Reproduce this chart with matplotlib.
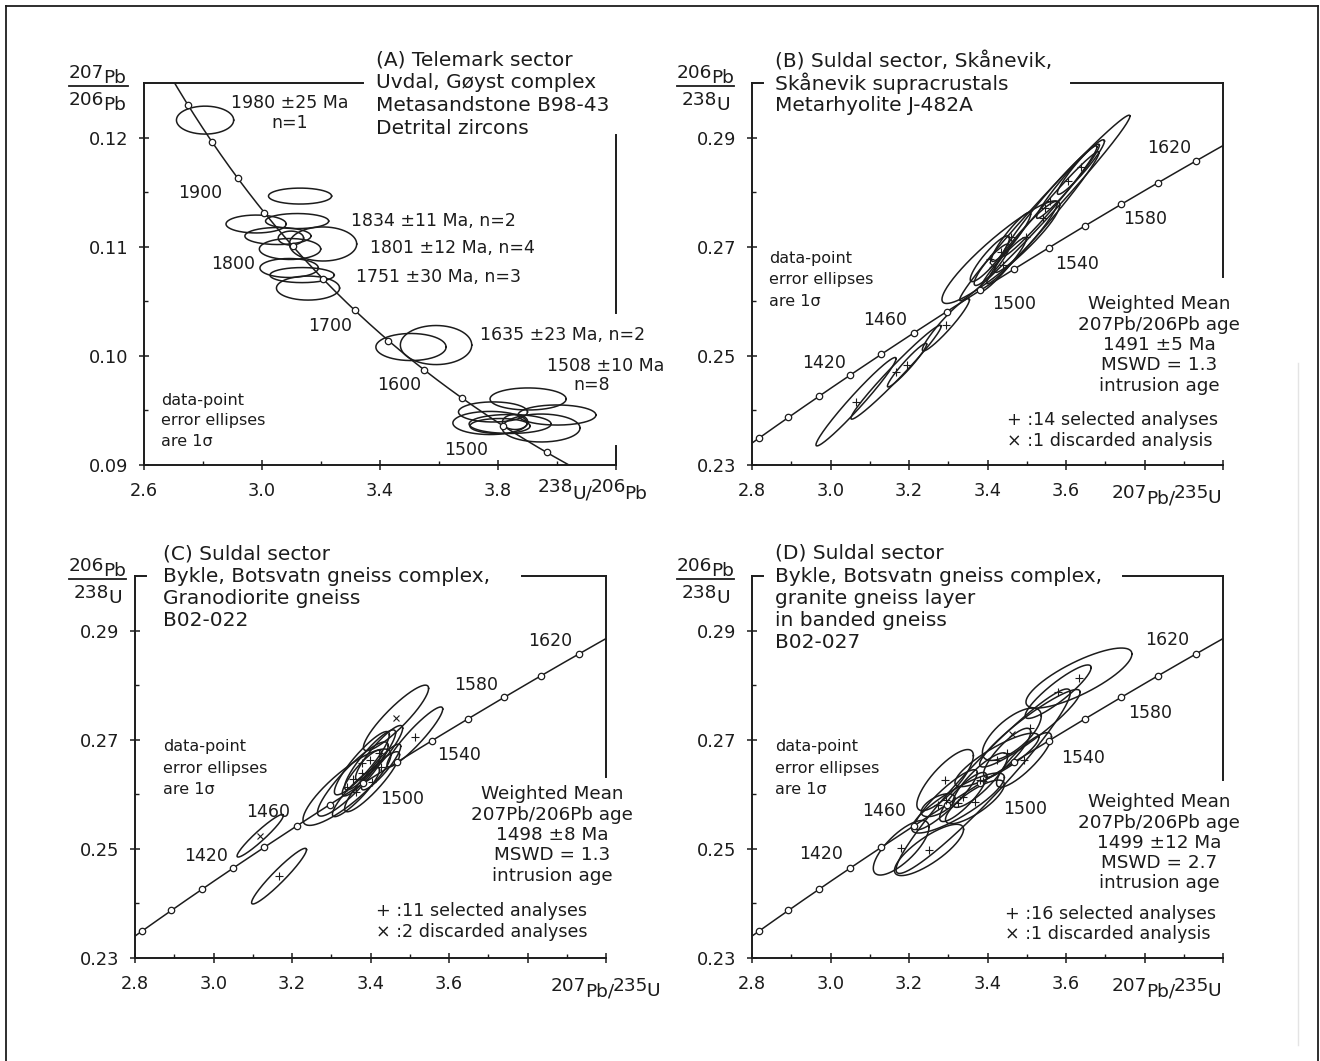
import numpy as np
import matplotlib
matplotlib.use("Agg")
import matplotlib.pyplot as plt
from matplotlib.lines import Line2D

plt.rcParams['font.family'] = ['DejaVu Sans']

W, H, DPI = 1320, 1061, 100
INK = '#1c1c1c'

# decay constants (1/Ma) and present-day 238U/235U
LAMBDA_238 = 1.55125e-4
LAMBDA_235 = 9.8485e-4
U238_U235 = 137.88

# ---------------- Panel A : Tera-Wasserburg, detrital zircons ----------------
a_marker_ages = [1450, 1500, 1550, 1600, 1650, 1700, 1750, 1800, 1850, 1900, 1950, 2000]
a_x = [2.807, 3.129, 2.980, 3.119, 3.054, 3.098, 3.207, 3.095, 3.092, 3.136, 3.156,
       3.505, 3.590,
       3.902, 3.783, 4.000, 3.773, 3.841, 3.946, 3.858, 3.807]
a_y = [0.1216, 0.11464, 0.11208, 0.11235, 0.11098, 0.11079, 0.11025, 0.10979, 0.10805, 0.10740, 0.10621,
       0.10081, 0.10099,
       0.09605, 0.09486, 0.09458, 0.09385, 0.09376, 0.09339, 0.09394, 0.09357]
a_sx = [0.097, 0.107, 0.102, 0.107, 0.112, 0.043, 0.114, 0.104, 0.099, 0.109, 0.107,
        0.119, 0.121,
        0.129, 0.117, 0.132, 0.126, 0.139, 0.132, 0.043, 0.102]
a_sy = [0.00128, 0.00073, 0.00082, 0.00069, 0.00078, 0.00064, 0.00156, 0.00096, 0.00087, 0.00069, 0.00110,
        0.00124, 0.00179,
        0.00101, 0.00092, 0.00092, 0.00106, 0.00087, 0.00128, 0.00069, 0.00069]
a_xticks = [2.6, 3.0, 3.4, 3.8, 4.2]
a_xticklabels = ['2.6', '3.0', '3.4', '3.8', '']
a_xminor = [2.8, 3.2, 3.6, 4.0]
a_yticks = [0.09, 0.10, 0.11, 0.12]
a_yticklabels = ['0.09', '0.10', '0.11', '0.12']
a_yminor = [0.095, 0.105, 0.115]

# ---------------- Panels B-D : Wetherill concordia ----------------
w_marker_ages = list(range(1340, 1661, 20))
w_xticks = [2.8, 3.0, 3.2, 3.4, 3.6, 3.8, 4.0]
w_xticklabels = ['2.8', '3.0', '3.2', '3.4', '3.6', '', '']
w_xminor = [2.9, 3.1, 3.3, 3.5, 3.7, 3.9]
w_yticks = [0.23, 0.25, 0.27, 0.29]
w_yticklabels = ['0.23', '0.25', '0.27', '0.29']
w_yminor = [0.24, 0.26, 0.28]

# Panel B : Metarhyolite J-482A  (x, y, sx, sy, rho, symbol)
b_x = [3.065, 3.167, 3.195, 3.294, 3.434, 3.546, 3.406, 3.439, 3.460, 3.498, 3.541, 3.559, 3.605, 3.638, 3.411]
b_y = [0.2416, 0.2470, 0.2483, 0.2557, 0.2690, 0.2771, 0.2678, 0.2667, 0.2718, 0.2718, 0.2753, 0.2784, 0.2820, 0.2846, 0.2667]
b_sx = [0.102, 0.115, 0.050, 0.060, 0.150, 0.217, 0.050, 0.060, 0.050, 0.080, 0.143, 0.120, 0.080, 0.060, 0.045]
b_sy = [0.0081, 0.0086, 0.0040, 0.0048, 0.0094, 0.0170, 0.0042, 0.0050, 0.0045, 0.0065, 0.0121, 0.0101, 0.0068, 0.0050, 0.0038]
b_rho = [0.975, 0.98, 0.96, 0.95, 0.92, 0.99, 0.90, 0.95, 0.93, 0.95, 0.985, 0.98, 0.97, 0.95, 0.90]
b_sym = ['+'] * 14 + ['x']

# Panel C : Granodiorite gneiss B02-022
c_x = [3.378, 3.399, 3.422, 3.355, 3.378, 3.340, 3.363, 3.427, 3.404, 3.513, 3.167, 3.465, 3.119]
c_y = [0.2657, 0.2663, 0.2676, 0.2628, 0.2639, 0.2613, 0.2604, 0.2650, 0.2623, 0.2705, 0.2450, 0.2740, 0.2524]
c_sx = [0.070, 0.065, 0.060, 0.090, 0.050, 0.112, 0.060, 0.050, 0.070, 0.071, 0.070, 0.083, 0.059]
c_sy = [0.0058, 0.0055, 0.0050, 0.0068, 0.0042, 0.0070, 0.0045, 0.0042, 0.0055, 0.0055, 0.0051, 0.0060, 0.0039]
c_rho = [0.90, 0.90, 0.90, 0.90, 0.88, 0.85, 0.90, 0.90, 0.90, 0.93, 0.95, 0.90, 0.95]
c_sym = ['+'] * 11 + ['x', 'x']

# Panel D : granite gneiss layer B02-027
d_x = [3.633, 3.580, 3.462, 3.389, 3.292, 3.180, 3.251, 3.325, 3.368, 3.424, 3.508, 3.274, 3.294, 3.338, 3.381, 3.450, 3.493]
d_y = [0.2813, 0.2788, 0.2710, 0.2624, 0.2626, 0.2502, 0.2498, 0.2584, 0.2586, 0.2663, 0.2721, 0.2580, 0.2590, 0.2595, 0.2626, 0.2676, 0.2663]
d_sx = [0.135, 0.084, 0.075, 0.222, 0.072, 0.071, 0.088, 0.118, 0.075, 0.107, 0.128, 0.043, 0.080, 0.060, 0.070, 0.060, 0.070]
d_sy = [0.0055, 0.0049, 0.0048, 0.0169, 0.0056, 0.0050, 0.0047, 0.0055, 0.0040, 0.0049, 0.0071, 0.0021, 0.0055, 0.0045, 0.0050, 0.0045, 0.0050]
d_rho = [0.80, 0.90, 0.70, 0.96, 0.80, 0.75, 0.80, 0.85, 0.80, 0.85, 0.93, 0.60, 0.90, 0.85, 0.85, 0.85, 0.85]
d_sym = ['+', '+', 'x'] + ['+'] * 14

# ---------------------------------------------------------------------------
fig = plt.figure(figsize=(W / DPI, H / DPI), dpi=DPI)
renderer = fig.canvas.get_renderer()


def fx(px):
    return px / W


def fy(py):
    return 1 - py / H


def ftext(px, py, s, size=12.5, ha='left', va='center'):
    return fig.text(fx(px), fy(py), s, fontsize=size, ha=ha, va=va, color=INK)


def text_w(s, size):
    t = fig.text(0, 0, s, fontsize=size)
    w = t.get_window_extent(renderer).width
    t.remove()
    return w


def iso_text(px, base_py, parts, size=13.3, rise=5):
    # pieces laid side by side; mass numbers raised, same size as element symbols
    full = ''.join(s for s, _ in parts)
    total = text_w(full, size)
    for i, (s, up) in enumerate(parts):
        rest = ''.join(p for p, _ in parts[i:])
        x = px + total - text_w(rest, size) - 1.5 * i
        fig.text(fx(x), fy(base_py - (rise if up else 0)), s, fontsize=size,
                 ha='left', va='baseline', color=INK)


def fline(x0, y0, x1, y1, lw=1.3, color=INK):
    fig.add_artist(Line2D([fx(x0), fx(x1)], [fy(y0), fy(y1)], color=color, lw=lw))


def make_axes(left, top, width, height):
    return fig.add_axes([left / W, 1 - (top + height) / H, width / W, height / H])


def style_axes(ax, xlim, ylim, xt, xtl, xm, yt, ytl, ym, frame):
    ax.set_xlim(*xlim)
    ax.set_ylim(*ylim)
    for s in ax.spines.values():
        s.set_visible(False)
    ax.patch.set_alpha(0)
    ax.set_xticks(xt)
    ax.set_xticklabels(xtl)
    ax.set_xticks(xm, minor=True)
    ax.set_yticks(yt)
    ax.set_yticklabels(ytl)
    ax.set_yticks(ym, minor=True)
    ax.tick_params(which='major', direction='inout', length=6.5, width=1.1,
                   colors=INK, labelsize=12.8)
    ax.tick_params(which='minor', direction='in', length=3, width=1.0, colors=INK)
    ax.tick_params(axis='x', which='major', pad=9)
    ax.tick_params(axis='y', which='major', pad=8)
    for (x0, y0, x1, y1) in frame:
        ax.add_line(Line2D([x0, x1], [y0, y1], transform=ax.transAxes, color=INK,
                           lw=1.4, clip_on=False, solid_capstyle='projecting'))


def ellipse(ax, cx, cy, sx, sy, rho, n=241):
    th = np.linspace(0, 2 * np.pi, n)
    ex = cx + sx * np.cos(th)
    ey = cy + sy * (rho * np.cos(th) + np.sqrt(1 - rho ** 2) * np.sin(th))
    ax.plot(ex, ey, color=INK, lw=1.1, zorder=3)


# ---------------- Panel A ----------------
axA = make_axes(144, 83, 472, 382)
style_axes(axA, (2.6, 4.2), (0.09, 0.125), a_xticks, a_xticklabels, a_xminor,
           a_yticks, a_yticklabels, a_yminor,
           [(0, 0, 0, 1), (0, 0, 1, 0), (0, 1, 0.464, 1), (1, 0.398, 1, 0.864), (1, 0, 1, 0.05)])
t = np.linspace(1380, 2100, 600)
tw_x = 1 / (np.exp(LAMBDA_238 * t) - 1)
tw_y = (np.exp(LAMBDA_235 * t) - 1) / (np.exp(LAMBDA_238 * t) - 1) / U238_U235
axA.plot(tw_x, tw_y, color=INK, lw=1.1, zorder=2)
ma = np.array(a_marker_ages, dtype=float)
axA.plot(1 / (np.exp(LAMBDA_238 * ma) - 1),
         (np.exp(LAMBDA_235 * ma) - 1) / (np.exp(LAMBDA_238 * ma) - 1) / U238_U235,
         'o', ms=4.6, mfc='white', mec=INK, mew=0.9, zorder=5)
for i in range(len(a_x)):
    ellipse(axA, a_x[i], a_y[i], a_sx[i], a_sy[i], 0.0)

for s, px, py in [('1900', 200, 193), ('1800', 233, 264), ('1700', 330, 326),
                  ('1600', 399, 385), ('1500', 466, 450)]:
    ftext(px, py, s, 12.5, ha='center')
ftext(290, 103, '1980 ±25 Ma', 12.5, ha='center')
ftext(290, 123, 'n=1', 12.5, ha='center')
ftext(351, 221, '1834 ±11 Ma, n=2', 12.5)
ftext(370, 248, '1801 ±12 Ma, n=4', 12.5)
ftext(356, 277, '1751 ±30 Ma, n=3', 12.5)
ftext(480, 335, '1635 ±23 Ma, n=2', 12.5)
ftext(606, 366, '1508 ±10 Ma', 12.5, ha='center')
ftext(592, 385, 'n=8', 12.5, ha='center')
for s, py in [('(A) Telemark sector', 60), ('Uvdal, Gøyst complex', 83),
              ('Metasandstone B98-43', 105), ('Detrital zircons', 128)]:
    ftext(376, py, s, 14.5)
for s, py in [('data-point', 401), ('error ellipses', 421), ('are 1σ', 442)]:
    ftext(161, py, s, 11.5)
iso_text(69, 83, [('207', True), ('Pb', False)])
fline(69, 86, 128, 86)
iso_text(69, 110, [('206', True), ('Pb', False)])
iso_text(538, 499, [('238', True), ('U/', False), ('206', True), ('Pb', False)], rise=7)


# ---------------- Panels B-D ----------------
def wetherill(ax):
    tt = np.linspace(1300, 1700, 400)
    ax.plot(np.exp(LAMBDA_235 * tt) - 1, np.exp(LAMBDA_238 * tt) - 1, color=INK, lw=1.1, zorder=2)
    m = np.array(w_marker_ages, dtype=float)
    ax.plot(np.exp(LAMBDA_235 * m) - 1, np.exp(LAMBDA_238 * m) - 1, 'o', ms=4.6,
            mfc='white', mec=INK, mew=0.9, zorder=5)


def data_panel(ax, xs, ys, sxs, sys_, rhos, syms):
    for i in range(len(xs)):
        ellipse(ax, xs[i], ys[i], sxs[i], sys_[i], rhos[i])
    for i in range(len(xs)):
        if syms[i] == '+':
            ax.plot(xs[i], ys[i], '+', ms=5.5, mew=0.8, color=INK, zorder=6)
        else:
            ax.plot(xs[i], ys[i], 'x', ms=4.5, mew=0.8, color=INK, zorder=6)


panels = [
    dict(left=752, top=83, x=b_x, y=b_y, sx=b_sx, sy=b_sy, rho=b_rho, sym=b_sym,
         frame=[(0, 0, 0, 1), (0, 0, 1, 0), (0, 1, 0.023, 1), (0.677, 1, 1, 1), (1, 0.492, 1, 1)],
         title=['(B) Suldal sector, Skånevik,', 'Skånevik supracrustals', 'Metarhyolite J-482A'],
         title_x=775, title_y=[62, 83, 105],
         ages=[('1420', 824, 363), ('1460', 885, 320), ('1500', 1014, 304), ('1540', 1077, 264),
               ('1580', 1145, 219), ('1620', 1169, 148)],
         note_x=769, note_y=[259, 279, 301],
         wm_x=1159, wm_y=[304, 325, 345, 365, 386], wm_age='1491 ±5 Ma', wm_mswd='MSWD = 1.3',
         leg_x=1007, leg_y=[420, 441], leg=['+ :14 selected analyses', '× :1 discarded analysis'],
         ylab_x=677, xlab_x=1112),
    dict(left=135, top=576, x=c_x, y=c_y, sx=c_sx, sy=c_sy, rho=c_rho, sym=c_sym,
         frame=[(0, 0, 0, 1), (0, 0, 1, 0), (0, 1, 0.023, 1), (0.822, 1, 1, 1), (1, 0.474, 1, 1)],
         title=['(C) Suldal sector', 'Bykle, Botsvatn gneiss complex,', 'Granodiorite gneiss', 'B02-022'],
         title_x=163, title_y=[554, 576, 598, 620],
         ages=[('1420', 206, 856), ('1460', 268, 812), ('1500', 402, 799), ('1540', 459, 755),
               ('1580', 476, 685), ('1620', 550, 641)],
         note_x=163, note_y=[747, 768, 790],
         wm_x=552, wm_y=[794, 815, 835, 855, 876], wm_age='1498 ±8 Ma', wm_mswd='MSWD = 1.3',
         leg_x=376, leg_y=[911, 932], leg=['+ :11 selected analyses', '× :2 discarded analyses'],
         ylab_x=69, xlab_x=551),
    dict(left=752, top=576, x=d_x, y=d_y, sx=d_sx, sy=d_sy, rho=d_rho, sym=d_sym,
         frame=[(0, 0, 0, 1), (0, 0, 1, 0), (0, 1, 0.023, 1), (0.788, 1, 1, 1), (1, 0.466, 1, 1)],
         title=['(D) Suldal sector', 'Bykle, Botsvatn gneiss complex,', 'granite gneiss layer',
                'in banded gneiss', 'B02-027'],
         title_x=775, title_y=[553, 576, 598, 621, 643],
         ages=[('1420', 821, 854), ('1460', 884, 811), ('1500', 1025, 809), ('1540', 1083, 758),
               ('1580', 1150, 713), ('1620', 1167, 640)],
         note_x=775, note_y=[747, 768, 790],
         wm_x=1159, wm_y=[802, 823, 843, 863, 883], wm_age='1499 ±12 Ma', wm_mswd='MSWD = 2.7',
         leg_x=1005, leg_y=[914, 934], leg=['+ :16 selected analyses', '× :1 discarded analysis'],
         ylab_x=677, xlab_x=1112),
]

for p in panels:
    ax = make_axes(p['left'], p['top'], 471, 382)
    style_axes(ax, (2.8, 4.0), (0.23, 0.30), w_xticks, w_xticklabels, w_xminor,
               w_yticks, w_yticklabels, w_yminor, p['frame'])
    wetherill(ax)
    data_panel(ax, p['x'], p['y'], p['sx'], p['sy'], p['rho'], p['sym'])
    for s, py in zip(p['title'], p['title_y']):
        ftext(p['title_x'], py, s, 14.5)
    for s, px, py in p['ages']:
        ftext(px, py, s, 12.5, ha='center')
    for s, py in zip(['data-point', 'error ellipses', 'are 1σ'], p['note_y']):
        ftext(p['note_x'], py, s, 11.5)
    for s, py in zip(['Weighted Mean', '207Pb/206Pb age', p['wm_age'], p['wm_mswd'], 'intrusion age'],
                     p['wm_y']):
        ftext(p['wm_x'], py, s, 13.2, ha='center')
    for s, py in zip(p['leg'], p['leg_y']):
        ftext(p['leg_x'], py, s, 12.6)
    top = p['top']
    iso_text(p['ylab_x'], top, [('206', True), ('Pb', False)])
    fline(p['ylab_x'], top + 3, p['ylab_x'] + 57, top + 3)
    iso_text(p['ylab_x'] + 5, top + 27, [('238', True), ('U', False)])
    bot = top + 382
    iso_text(p['xlab_x'], bot + 38, [('207', True), ('Pb/', False), ('235', True), ('U', False)])

# outer frame and faint scan line at the right
fline(6, 6, 1318, 6, lw=1.3)
fline(6, 6, 6, 1061, lw=1.3)
fline(1318, 6, 1318, 1061, lw=1.3)
fline(1298, 363, 1298, 1045, lw=1.0, color='#e4e4e4')

fig.savefig('out.png', dpi=DPI)
